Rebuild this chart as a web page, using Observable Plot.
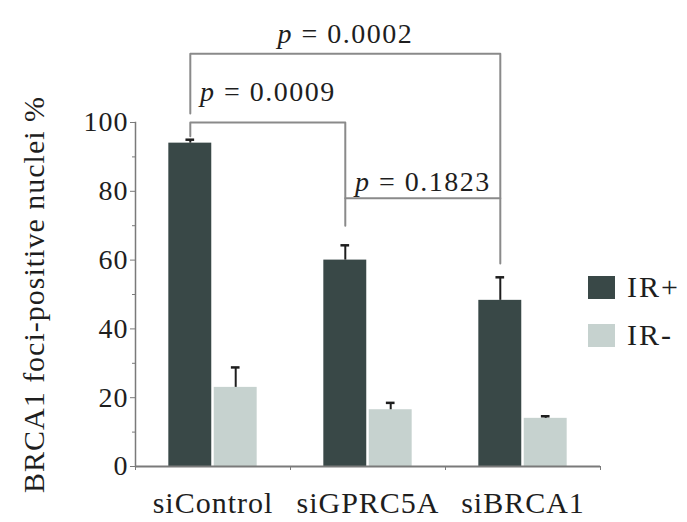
<!DOCTYPE html>
<html>
<head>
<meta charset="utf-8">
<script src="https://cdn.jsdelivr.net/npm/d3@7"></script>
<script src="https://cdn.jsdelivr.net/npm/@observablehq/plot@0.6"></script>
<style>
  html, body { margin: 0; padding: 0; background: #fff; }
  #wrap { position: relative; width: 687px; height: 522px; font-family: "Liberation Serif", "DejaVu Serif", serif; }
  #wrap svg text { letter-spacing: 1px; }
  #legend { position: absolute; left: 588px; top: 272px; color: #1e1e1e; }
  #legend .item { display: flex; align-items: center; height: 30px; margin-bottom: 18px; font-size: 30px; letter-spacing: 2px; }
  #legend .sw { width: 27px; height: 23px; margin-right: 12px; }
</style>
</head>
<body>
<div id="wrap"><div id="legend"></div></div>
<script>
// Conditions (x groups) and treatment series
const groups = ["siControl", "siGPRC5A", "siBRCA1"];
const series = ["IR+", "IR-"];
const colors = ["#394847", "#c6d2cf"];

// Mean % of BRCA1 foci-positive nuclei and upper error (SD)
const irPlus = [94, 60, 48.3];
const irPlusErr = [1, 4.3, 6.7];
const irMinus = [23, 16.5, 14];
const irMinusErr = [5.8, 2, 0.6];

// Pairwise comparisons: group indices, p value, bracket level, label level, leg ends
const cmpFrom = [0, 0, 1];
const cmpTo = [1, 2, 2];
const cmpP = ["0.0009", "0.0002", "0.1823"];
const cmpLevel = [100, 120, 78];
const cmpLabelLevel = [109, 125.6, 82.8];
const cmpLegFrom = [96, 102.6, null];
const cmpLegTo = [70, 59, null];

const yTicks = [0, 20, 40, 60, 80, 100];
const yMinorTicks = [10, 30, 50, 70, 90];
const yLabel = "BRCA1 foci-positive nuclei %";

// Bar width within a group (in group units) and gap between the pair
const barW = 0.277, gap = 0.008;
const offset = [-(gap + barW / 2), gap + barW / 2];

const rows = [];
groups.forEach((g, i) => {
  rows.push({i, series: "IR+", value: irPlus[i], err: irPlusErr[i], xc: i + offset[0]});
  rows.push({i, series: "IR-", value: irMinus[i], err: irMinusErr[i], xc: i + offset[1]});
});

// Bracket paths connect the IR+ bar centres
const bracketPts = [];
const labels = [];
cmpFrom.forEach((a, k) => {
  const b = cmpTo[k];
  const xa = a + offset[0], xb = b + offset[0];
  const pts = [];
  if (cmpLegFrom[k] != null) pts.push({x: xa, y: cmpLegFrom[k]});
  pts.push({x: xa, y: cmpLevel[k]});
  pts.push({x: xb, y: cmpLevel[k]});
  if (cmpLegTo[k] != null) pts.push({x: xb, y: cmpLegTo[k]});
  pts.forEach(p => bracketPts.push({...p, k}));
  labels.push({x: (xa + xb) / 2, y: cmpLabelLevel[k], text: "p = " + cmpP[k]});
});

const font = "Liberation Serif";
const ink = "#1e1e1e";
const axisGrey = "#7a7a7a";

const chart = Plot.plot({
  width: 687,
  height: 522,
  marginLeft: 135,
  marginRight: 87,
  marginTop: 122,
  marginBottom: 56,
  style: {fontFamily: font, color: ink, background: "white", overflow: "visible"},
  x: {type: "linear", domain: [-0.5, 2.5], axis: null},
  y: {domain: [0, 100], axis: null},
  color: {domain: series, range: colors},
  marks: [
    Plot.rectY(rows, {x1: d => d.xc - barW / 2, x2: d => d.xc + barW / 2, y1: 0, y2: "value", fill: "series"}),
    Plot.ruleX(rows, {x: "xc", y1: "value", y2: d => d.value + d.err, stroke: ink, strokeWidth: 2}),
    Plot.ruleY(rows, {y: d => d.value + d.err, x1: d => d.xc - 0.028, x2: d => d.xc + 0.028, stroke: ink, strokeWidth: 2.5}),
    // axes
    Plot.frame({anchor: "left", stroke: axisGrey, strokeWidth: 1.5}),
    Plot.ruleY([0], {stroke: axisGrey, strokeWidth: 2}),
    Plot.axisY({ticks: yTicks, tickSize: 5, tickPadding: 2, fontSize: 28, stroke: axisGrey, fill: ink, label: null}),
    Plot.axisY({ticks: yMinorTicks, tickSize: 3, text: null, stroke: axisGrey, label: null}),
    Plot.axisX({ticks: [-0.5, 0.5, 1.5, 2.5], tickSize: 4, text: null, stroke: axisGrey, label: null}),
    Plot.axisX({ticks: [0, 1, 2], tickSize: 0, tickPadding: 25, tickFormat: i => groups[i], fontSize: 30, fill: ink, label: null}),
    Plot.text([yLabel], {frameAnchor: "left", textAnchor: "middle", rotate: -90, dx: -101, fontSize: 30, fill: ink}),
    // significance brackets
    Plot.line(bracketPts, {x: "x", y: "y", z: "k", stroke: "#8a8a8a", strokeWidth: 2}),
    Plot.text(labels, {x: "x", y: "y", text: "text", fontSize: 28, fill: ink, lineAnchor: "middle"})
  ]
});

// italicise the "p" of each p-value label
d3.select(chart).selectAll("text").each(function () {
  const t = this.textContent;
  if (t.startsWith("p = ") && this.childElementCount === 0) {
    const sel = d3.select(this).style("letter-spacing", "1.5px");
    sel.text(null);
    sel.append("tspan").attr("font-style", "italic").text("p");
    sel.append("tspan").text(t.slice(1));
  }
});

const wrap = document.getElementById("wrap");
wrap.insertBefore(chart, wrap.firstChild);

const legend = d3.select("#legend");
series.forEach((s, j) => {
  const item = legend.append("div").attr("class", "item");
  item.append("div").attr("class", "sw").style("background", colors[j]);
  item.append("span").text(s);
});
</script>
</body>
</html>
